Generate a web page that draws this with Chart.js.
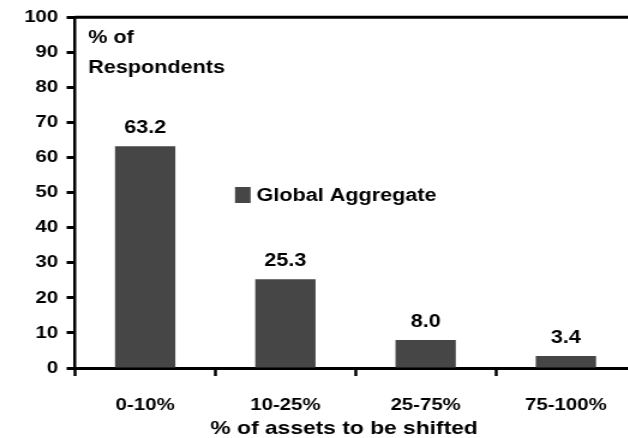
<!DOCTYPE html>
<html>
<head>
<meta charset="utf-8">
<script src="https://cdn.jsdelivr.net/npm/chart.js@4.4.1/dist/chart.umd.min.js"></script>
<style>
  html, body { margin: 0; padding: 0; background: #fff; overflow: hidden; width: 628px; height: 438px; }
  /* the source picture is stretched sideways, so the chart is too */
  #wrap { width: 533px; height: 438px; transform: scaleX(1.2); transform-origin: 0 0; }
</style>
</head>
<body>
<div id="wrap"><canvas id="myChart" width="533" height="438"></canvas></div>
<script>
const categories = ['0-10%', '10-25%', '25-75%', '75-100%'];
const globalAggregate = [63.2, 25.3, 8.0, 3.4];
const seriesName = 'Global Aggregate';
const xTitle = '% of assets to be shifted';
const yTicks = [0, 10, 20, 30, 40, 50, 60, 70, 80, 90, 100];

const fontFamily = 'Arial, "Liberation Sans", sans-serif';
const barColor = '#464646';

// values on top of bars, frame lines, unit label, legend and x title
const extras = {
    id: 'extras',
    afterDatasetsDraw(chart) {
        const ctx = chart.ctx;
        const area = chart.chartArea;
        const meta = chart.getDatasetMeta(0);
        ctx.save();
        ctx.fillStyle = '#000';
        ctx.font = 'bold 18px ' + fontFamily;
        ctx.textAlign = 'center';
        ctx.textBaseline = 'alphabetic';
        meta.data.forEach((bar, i) => {
            ctx.fillText(globalAggregate[i].toFixed(1), bar.x, bar.y - 13);
        });

        ctx.strokeStyle = '#000';
        ctx.lineWidth = 3;
        ctx.beginPath();
        ctx.moveTo(area.left, area.top);
        ctx.lineTo(area.right, area.top);
        ctx.stroke();
        ctx.lineWidth = 2.5;
        ctx.beginPath();
        ctx.moveTo(area.right, area.top);
        ctx.lineTo(area.right, area.bottom);
        ctx.stroke();

        ctx.font = 'bold 19px ' + fontFamily;
        ctx.textBaseline = 'middle';
        ctx.fillText(xTitle, (area.left + area.right) / 2 - 9.5, 429);

        ctx.textAlign = 'left';
        ctx.font = 'bold 18px ' + fontFamily;
        ctx.fillText('% of', area.left + 11, 38);
        ctx.fillText('Respondents', area.left + 11, 68);

        const x = chart.scales.x;
        const lx = x.getPixelForValue(1) - 42;
        const ly = 195;
        ctx.fillStyle = barColor;
        ctx.fillRect(lx, ly - 8, 13, 16);
        ctx.fillStyle = '#000';
        ctx.fillText(seriesName, lx + 18, ly + 1);
        ctx.restore();
    }
};

new Chart(document.getElementById('myChart').getContext('2d'), {
    type: 'bar',
    data: {
        labels: categories,
        datasets: [{
            label: seriesName,
            data: globalAggregate,
            backgroundColor: barColor,
            borderWidth: 0,
            categoryPercentage: 1,
            barPercentage: 0.43
        }]
    },
    options: {
        responsive: false,
        animation: false,
        layout: { padding: { top: 17, right: 3, left: 0, bottom: 0 } },
        plugins: {
            legend: { display: false },
            tooltip: { enabled: false }
        },
        scales: {
            y: {
                min: 0,
                max: 100,
                afterBuildTicks: axis => { axis.ticks = yTicks.map(v => ({ value: v })); },
                afterFit: axis => { axis.width = 62.5; },
                border: { display: true, color: '#000', width: 2.5 },
                grid: { drawOnChartArea: false, drawTicks: true, tickLength: 7, tickWidth: 3, color: '#000' },
                ticks: { color: '#000', font: { family: fontFamily, size: 17, weight: 'bold' }, padding: 7 }
            },
            x: {
                afterFit: axis => { axis.height = 70; },
                border: { display: true, color: '#000', width: 3 },
                grid: { drawOnChartArea: false, drawTicks: true, tickLength: 8, tickWidth: 2.5, color: '#000', offset: true },
                ticks: { color: '#000', font: { family: fontFamily, size: 17, weight: 'bold' }, padding: 19 }
            }
        }
    },
    plugins: [extras]
});
</script>
</body>
</html>
